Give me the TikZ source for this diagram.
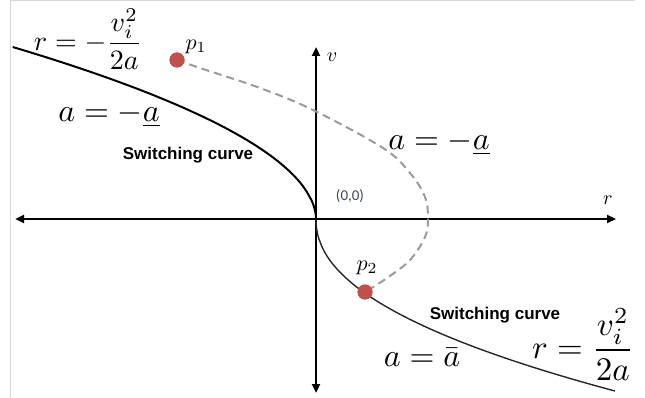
\documentclass[tikz,border=0pt]{standalone}
\usepackage{fontspec}
\setsansfont{Liberation Sans}
\newfontfamily\calfont{Carlito}
\usetikzlibrary{arrows.meta}
\definecolor{dotred}{HTML}{C0504D}
\definecolor{dashgray}{HTML}{9A9A9A}
\definecolor{origtext}{HTML}{3E4656}
\definecolor{framegray}{HTML}{D8D8D8}
\begin{document}
\begin{tikzpicture}[x=1pt,y=-1pt,
  axisline/.style={line width=2.6pt,{Triangle[length=9pt,width=8pt]}-{Triangle[length=9pt,width=8pt]}},
  curveA/.style={line width=2pt,black},
  curveB/.style={line width=1.4pt,black!85},
  dashcurve/.style={line width=2pt,dashgray,dash pattern=on 8pt off 5pt},
  dot/.style={circle,fill=dotred,minimum size=15pt,inner sep=0pt},
  bigmath/.style={inner sep=0pt,font=\fontsize{10}{12}\selectfont,scale=3.2},
  fracmath/.style={inner sep=0pt,font=\fontsize{10}{12}\selectfont,scale=2.8},
  fracmathB/.style={inner sep=0pt,font=\fontsize{10}{12}\selectfont,scale=3.3},
  smallmath/.style={inner sep=0pt,font=\fontsize{10}{12}\selectfont,scale=2},
  plabel/.style={inner sep=0pt,font=\fontsize{10}{12}\selectfont,scale=2.2},
  swlabel/.style={inner sep=0pt,font=\sffamily\bfseries\fontsize{17}{20}\selectfont},
  origlabel/.style={inner sep=0pt,text=origtext,font=\calfont\fontsize{15}{18}\selectfont}]
\useasboundingbox (0,0) rectangle (645,398);
% frame lines
\draw[framegray,line width=1pt] (10,1) -- (635,1);
\draw[framegray,line width=1pt] (10.5,0) -- (10.5,398);
% axes
\coordinate (O) at (316,219);
\coordinate (xl) at (15,219);
\coordinate (xr) at (616,219);
\coordinate (yt) at (316,47);
\coordinate (yb) at (316,393);
\draw[axisline] (xl) -- (xr);
\draw[axisline] (yb) -- (yt);
% dots
\node[dot] (p1) at (177,60) {};
\node[dot] (p2) at (365,292) {};
% dashed trajectory
\draw[dashcurve] plot[smooth,tension=0.6] coordinates {(p1.center) (200,68) (260,88) (313,110) (383,148) (410,173) (425,197) (428,219) (425,237) (410,260) (387,278) (p2.center)};
% switching curves
\draw[curveA] (O) -- plot[domain=0.3:172,samples=90] ({316-300*pow(\x/171,1.9)},{219-\x});
\draw[curveB] (O) -- plot[domain=0.3:172,samples=90] ({316+299*pow(\x/172,2.15)},{219+\x});
\node[dot] at (p1) {};
\node[dot] at (p2) {};
% labels
\node[smallmath] (vlab) at (332,57) {$v$};
\node[smallmath] (rlab) at (608,200) {$r$};
\node[plabel] (p1lab) at (196,47) {$p_1$};
\node[plabel] (p2lab) at (367,268) {$p_2$};
\node[origlabel] (orig) at (350,196) {(0,0)};
\node[fracmath] (eqtl) at (88,39) {$\displaystyle r=-\frac{v_i^2}{2a}$};
\node[fracmathB] (eqbr) at (583,345) {$\displaystyle r=\frac{v_i^2}{2a}$};
\node[bigmath] (aml) at (109,115) {$a=-\underline{a}$};
\node[bigmath] (amr) at (439,143) {$a=-\underline{a}$};
\node[bigmath] (abar) at (422,357) {$a=\bar{a}$};
\node[swlabel] (sw1) at (188,155) {Switching curve};
\node[swlabel] (sw2) at (495,315) {Switching curve};
\end{tikzpicture}
\end{document}
